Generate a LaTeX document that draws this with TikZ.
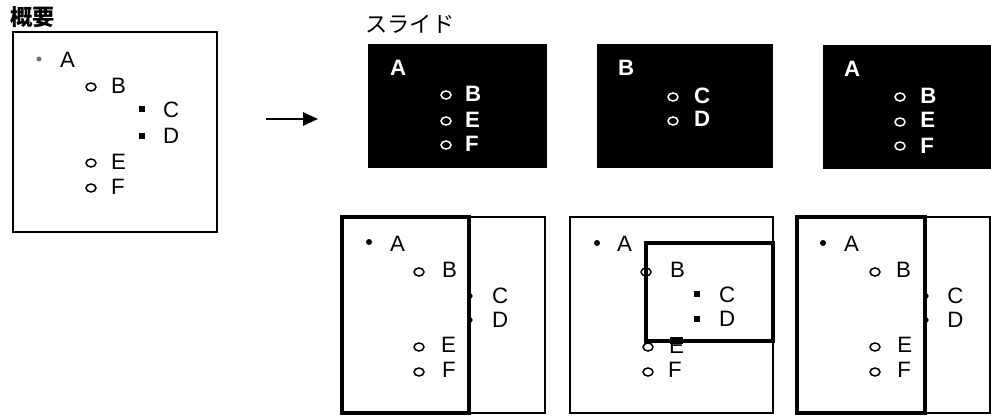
\documentclass[tikz,border=0pt]{standalone}
\usepackage{fontspec}
\setmainfont{Liberation Sans}
\newfontfamily\jpfont{Noto Sans CJK JP}
\usetikzlibrary{arrows.meta,shapes.geometric}
\tikzset{
  frame/.style  ={rectangle, draw=black, line width=1.3pt, inner sep=0pt, outer sep=0pt},
  view/.style   ={frame, line width=3pt},
  slide/.style  ={rectangle, fill=black, inner sep=0pt, outer sep=0pt},
  lbl/.style    ={anchor=west, inner sep=0pt, font=\fontsize{19}{21}\selectfont},
  wlbl/.style   ={lbl, text=white, font=\fontsize{19}{21}\selectfont\bfseries},
  ttl/.style    ={anchor=west, inner sep=0pt, font=\jpfont\fontsize{19}{21}\selectfont},
  dot/.style    ={circle, fill=black, inner sep=0pt, minimum size=1.8mm},
  hollow/.style ={ellipse, draw=black, line width=1.3pt, inner sep=0pt,
                  minimum width=3mm, minimum height=2.4mm},
  whollow/.style={hollow, draw=white},
  sq/.style     ={rectangle, fill=black, inner sep=0pt, minimum size=2mm},
  ar/.style     ={-{Triangle[length=4.5mm,width=4mm]}, line width=1.5pt}
}
\begin{document}
\begin{tikzpicture}[x=0.3mm,y=-0.3mm]
\useasboundingbox (0,0) rectangle (991,416);

% outline
\node[ttl, font=\jpfont\bfseries\fontsize{19}{21}\selectfont] (ovt) at (10,17) {概要};
\node[frame, line width=1.6pt, minimum width=61.2mm, minimum height=60mm] (outline) at (115,132) {};
\node[dot, fill=black!55, minimum size=1.5mm] (oA) at (39,59) {};  \node[lbl] (oAt) at (60,60) {A};
\node[hollow] (oB) at (91,87) {};   \node[lbl] (oBt) at (111,86) {B};
\node[sq] (oC) at (142,109) {};     \node[lbl] (oCt) at (163,110) {C};
\node[sq] (oD) at (142,136) {};     \node[lbl] (oDt) at (163,136) {D};
\node[hollow] (oE) at (91,163) {};  \node[lbl] (oEt) at (111,162) {E};
\node[hollow] (oF) at (91,188) {};  \node[lbl] (oFt) at (111,187) {F};

\coordinate (arS) at (266,119);
\coordinate (arE) at (318,119);
\draw[ar] (arS) -- (arE);

% slides
\node[ttl] (slt) at (365,24) {スライド};
\node[slide, minimum width=53.7mm, minimum height=37.2mm] (s1) at (457.5,106) {};
\node[wlbl] (s1At) at (390,68) {A};
\node[whollow] (s1B) at (446,95) {};   \node[wlbl] (s1Bt) at (465,94) {B};
\node[whollow] (s1E) at (446,121) {};  \node[wlbl] (s1Et) at (465,120) {E};
\node[whollow] (s1F) at (446,145) {};  \node[wlbl] (s1Ft) at (465,144) {F};

\node[slide, minimum width=52.8mm, minimum height=37.2mm] (s2) at (685,106) {};
\node[wlbl] (s2Bt) at (618,68) {B};
\node[whollow] (s2C) at (673,97) {};   \node[wlbl] (s2Ct) at (694,96) {C};
\node[whollow] (s2D) at (673,121) {};  \node[wlbl] (s2Dt) at (694,119) {D};

\node[slide, minimum width=50.4mm, minimum height=37.2mm] (s3) at (907,107) {};
\node[wlbl] (s3At) at (844,69) {A};
\node[whollow] (s3B) at (900,97) {};   \node[wlbl] (s3Bt) at (920,96) {B};
\node[whollow] (s3E) at (900,122) {};  \node[wlbl] (s3Et) at (920,120) {E};
\node[whollow] (s3F) at (900,146) {};  \node[wlbl] (s3Ft) at (920,146) {F};

% scrolled views
\node[frame, minimum width=60.9mm, minimum height=58.8mm] (p1) at (443.5,315) {};
\node[dot] (p1A) at (369,242) {};      \node[lbl] (p1At) at (390,244) {A};
\node[hollow] (p1B) at (419,272) {};   \node[lbl] (p1Bt) at (442,270) {B};
\node[lbl] (p1Ct) at (492,296) {C};
\node[lbl] (p1Dt) at (492,320) {D};
\node[hollow] (p1E) at (419,347) {};   \node[lbl] (p1Et) at (441,345) {E};
\node[hollow] (p1F) at (419,372) {};   \node[lbl] (p1Ft) at (442,370) {F};
\node[view, minimum width=38.1mm, minimum height=58.8mm] (p1v) at (405.5,315) {};
\node[dot, minimum size=1.6mm] (p1C) at (470,296) {};
\node[dot, minimum size=1.6mm] (p1D) at (470,320) {};

\node[frame, minimum width=60.9mm, minimum height=58.8mm] (p2) at (671.5,315) {};
\node[dot] (p2A) at (597,243) {};      \node[lbl] (p2At) at (617,244) {A};
\node[hollow] (p2B) at (646,272) {};   \node[lbl] (p2Bt) at (670,270) {B};
\node[sq] (p2C) at (697,294) {};       \node[lbl] (p2Ct) at (719,295) {C};
\node[sq] (p2D) at (697,319) {};       \node[lbl] (p2Dt) at (719,319) {D};
\node[hollow] (p2E) at (648,347) {};   \node[lbl] (p2Et) at (669,346) {E};
\node[hollow] (p2F) at (648,372) {};   \node[lbl] (p2Ft) at (668,370) {F};
\node[view, minimum width=38.1mm, minimum height=29.4mm] (p2v) at (709.5,292) {};
\node[rectangle, fill=black, inner sep=0pt, minimum width=3.9mm, minimum height=2.1mm] (p2m) at (676.5,340.5) {};

\node[frame, minimum width=57.9mm, minimum height=58.8mm] (p3) at (893.5,315) {};
\node[dot] (p3A) at (823,243) {};      \node[lbl] (p3At) at (844,244) {A};
\node[hollow] (p3B) at (875,272) {};   \node[lbl] (p3Bt) at (896,270) {B};
\node[lbl] (p3Ct) at (947,296) {C};
\node[lbl] (p3Dt) at (947,320) {D};
\node[hollow] (p3E) at (875,347) {};   \node[lbl] (p3Et) at (897,345) {E};
\node[hollow] (p3F) at (875,372) {};   \node[lbl] (p3Ft) at (897,370) {F};
\node[view, minimum width=38.4mm, minimum height=58.8mm] (p3v) at (861,315) {};
\node[dot, minimum size=1.6mm] (p3C) at (926,296) {};
\node[dot, minimum size=1.6mm] (p3D) at (926,320) {};
\end{tikzpicture}
\end{document}
